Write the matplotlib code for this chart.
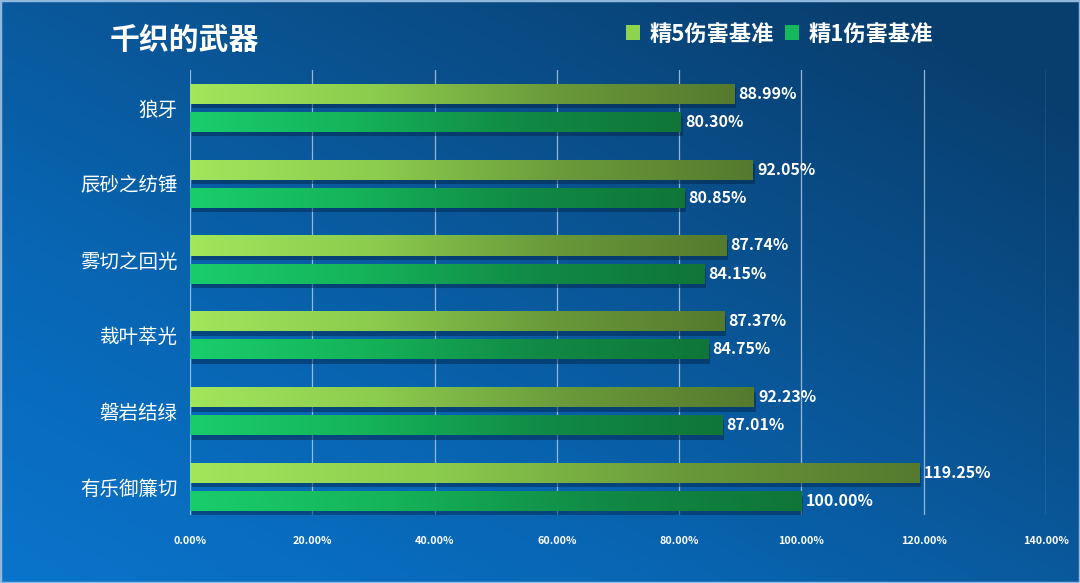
import numpy as np
import matplotlib
matplotlib.use("Agg")
import matplotlib.pyplot as plt
from matplotlib.colors import LinearSegmentedColormap
from matplotlib.patches import Rectangle

plt.rcParams['font.family'] = ['Noto Sans CJK SC', 'DejaVu Sans']

title = "千织的武器"
categories = ["狼牙", "辰砂之纺锤", "雾切之回光", "裁叶萃光", "磐岩结绿", "有乐御簾切"]
series_names = ["精5伤害基准", "精1伤害基准"]
r5_values = [88.99, 92.05, 87.74, 87.37, 92.23, 119.25]
r1_values = [80.30, 80.85, 84.15, 84.75, 87.01, 100.00]
xticks = [0, 20, 40, 60, 80, 100, 120, 140]

W, H = 1080, 583
fig = plt.figure(figsize=(W / 100, H / 100), dpi=100)

# background gradient
bg = fig.add_axes([0, 0, 1, 1])
bg.set_axis_off()
yy, xx = np.mgrid[0:1:200j, 0:1:300j]
t = np.clip(0.55 * xx + 0.55 * yy, 0, 1)
bg_cmap = LinearSegmentedColormap.from_list("bg", ["#0a74cc", "#0866b4", "#0a5290", "#083e6e"])
bg.imshow(t, cmap=bg_cmap, origin="lower", extent=[0, 1, 0, 1], aspect="auto", zorder=0)
bg.add_patch(Rectangle((0, 0), 1, 1, transform=bg.transAxes, fill=False,
                       edgecolor="#8fb8dc", linewidth=2.5, zorder=2))
bg.set_xlim(0, 1)
bg.set_ylim(0, 1)

left = 190 / W
right = 1046 / W
top = 1 - 70 / H
bottom = 1 - 515 / H
ax = fig.add_axes([left, bottom, right - left, top - bottom])
ax.patch.set_alpha(0)

n = len(categories)
ypos = np.arange(n)
off = 0.185
h = 0.264

bars5 = ax.barh(ypos - off, r5_values, height=h, color="none", zorder=3)
bars1 = ax.barh(ypos + off, r1_values, height=h, color="none", zorder=3)

cmap5 = LinearSegmentedColormap.from_list("c5", ["#a2e65c", "#8ccc4e", "#6a9a3a", "#557a2e"])
cmap1 = LinearSegmentedColormap.from_list("c1", ["#1acd6c", "#15b35a", "#118a45", "#0f7638"])
grad = np.linspace(0, 1, 256).reshape(1, -1)

def paint(bars, cmap):
    for b in bars:
        x0, y0 = b.get_x(), b.get_y()
        w, hh = b.get_width(), b.get_height()
        ax.add_patch(Rectangle((x0 + 0.3, y0 + 0.06), w, hh, facecolor="#04264a",
                               alpha=0.5, edgecolor="none", zorder=2))
        im = ax.imshow(grad, cmap=cmap, aspect="auto", extent=[x0, x0 + w, y0 + hh, y0],
                       zorder=3, interpolation="bilinear")
        im.set_clip_path(b)

paint(bars5, cmap5)
paint(bars1, cmap1)
ax.set_xlim(0, 140)
ax.set_ylim(n - 1 + 0.37, -0.5)

for bars, vals in ((bars5, r5_values), (bars1, r1_values)):
    for b, v in zip(bars, vals):
        ax.annotate(f"{v:.2f}%", (b.get_width(), b.get_y() + b.get_height() / 2),
                    xytext=(3, 0), textcoords="offset points", va="center", ha="left",
                    color="white", fontsize=11.5, fontweight="bold", zorder=5)

ax.set_xticks(xticks)
ax.set_xticklabels([f"{v:.2f}%" for v in xticks], color="white", fontsize=7.8, fontweight="bold")
ax.set_yticks(ypos)
ax.set_yticklabels(categories, color="white", fontsize=14)
ax.tick_params(axis="both", length=0)
ax.tick_params(axis="x", pad=15)
ax.tick_params(axis="y", pad=9)
ax.grid(axis="x", color="#b8d0ea", linewidth=0.9, alpha=0.8, zorder=1)
ax.set_axisbelow(True)
for s in ax.spines.values():
    s.set_visible(False)

fig.text(110 / W, 1 - 40 / H, title, color="white", fontsize=21.5, fontweight="bold",
         va="center", ha="left")

handles = [Rectangle((0, 0), 1, 1, facecolor=c) for c in ("#8ed24e", "#16b85c")]
leg = fig.legend(handles, series_names, loc="center left", bbox_to_anchor=(606 / W, 1 - 34 / H),
                 ncol=2, frameon=False, handlelength=0.65, handleheight=0.65, handletextpad=0.4,
                 columnspacing=0.5, prop={"size": 16, "weight": "bold"})
for txt in leg.get_texts():
    txt.set_color("white")

fig.savefig("out.png", dpi=100)
